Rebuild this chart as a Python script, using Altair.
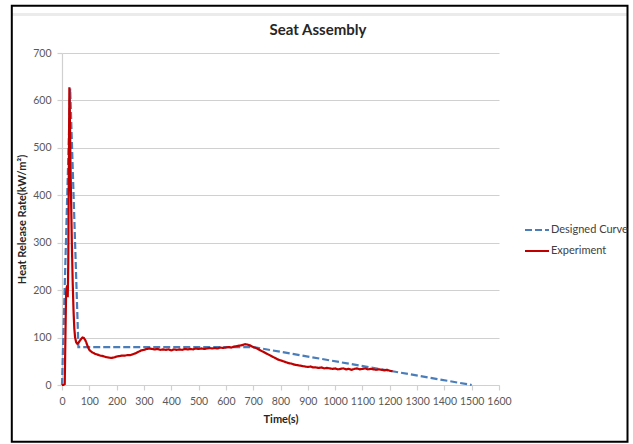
import altair as alt
import pandas as pd

# Designed heat release curve (time in s, HRR in kW/m²)
design_t = [0, 30, 60, 700, 1500]
design_hrr = [0, 625, 80, 80, 0]

# Measured heat release rate from the seat assembly test
exp_t = [0, 5, 10, 13, 15, 17, 19, 21, 23, 25, 27, 29, 31, 33, 36, 39, 42, 45, 48,
         52, 56, 60, 65, 70, 75, 80, 85, 90, 95,
         100, 110, 120, 130, 140, 150, 160, 170, 180, 190,
         200, 210, 220, 230, 240, 250, 260, 270, 280, 290,
         300, 310, 320, 330, 340, 350, 360, 370, 380, 390,
         400, 410, 420, 430, 440, 450, 460, 470, 480, 490,
         500, 510, 520, 530, 540, 550, 560, 570, 580, 590,
         600, 610, 620, 630, 640, 650, 660, 670, 680, 690,
         700, 710, 720, 730, 740, 750, 760, 770, 780, 790,
         800, 810, 820, 830, 840, 850, 860, 870, 880, 890,
         900, 910, 920, 930, 940, 950, 960, 970, 980, 990,
         1000, 1010, 1020, 1030, 1040, 1050, 1060, 1070, 1080, 1090,
         1100, 1110, 1120, 1130, 1140, 1150, 1160, 1170, 1180, 1190,
         1200, 1210]
exp_hrr = [0, 0, 2, 120, 195, 205, 210, 185, 260, 450, 628, 560, 470, 400, 300, 220, 160, 120, 100,
           90, 87, 89, 93, 97, 100, 99, 95, 88, 80,
           74, 69, 66, 64, 62, 61, 59, 58, 57, 58,
           60, 61, 62, 62, 63, 63, 65, 67, 70, 73,
           74, 76, 77, 76, 75, 76, 74, 75, 74, 75,
           73, 75, 74, 75, 74, 76, 75, 76, 75, 77,
           76, 77, 76, 77, 78, 77, 78, 77, 79, 78,
           79, 80, 79, 81, 82, 83, 84, 86, 85, 83,
           80, 78, 75, 72, 69, 66, 63, 60, 57, 54,
           52, 50, 48, 46, 45, 43, 42, 41, 40, 39,
           38, 39, 37, 37, 36, 37, 35, 36, 35, 34,
           35, 33, 34, 35, 33, 34, 32, 34, 35, 33,
           34, 35, 33, 34, 33, 32, 33, 32, 31, 32,
           30, 29]

series_names = ["Designed Curve", "Experiment"]
series_colors = ["#4a7ebb", "#c00000"]
series_dashes = [[7, 3], [1, 0]]

x_ticks = list(range(0, 1700, 100))
y_ticks = list(range(0, 800, 100))

chart_title = "Seat Assembly"

df = pd.concat([
    pd.DataFrame({"t": design_t, "hrr": design_hrr, "series": series_names[0]}),
    pd.DataFrame({"t": exp_t, "hrr": exp_hrr, "series": series_names[1]}),
], ignore_index=True)

FONT = "Lato"
W, H = 437, 332

legend = alt.Legend(
    title=None, orient="none", legendX=462, legendY=164,
    symbolType="stroke", symbolSize=576, symbolStrokeWidth=2,
    labelFont=FONT, labelFontSize=11, labelColor="#404040",
    padding=0, rowPadding=3, labelOffset=1,
)

lines = alt.Chart(df).mark_line(strokeWidth=2.2).encode(
    x=alt.X("t:Q", scale=alt.Scale(domain=[0, 1600], nice=False),
            axis=alt.Axis(values=x_ticks, format="d", title="Time(s)", grid=False,
                          titleX=W / 2, titleY=34, titleBaseline="middle")),
    y=alt.Y("hrr:Q", scale=alt.Scale(domain=[0, 700], nice=False),
            axis=alt.Axis(values=y_ticks, format="d", title="Heat Release Rate(kW/m²)", grid=True,
                          titleX=-40, titleY=H / 2, titleAngle=270,
                          titleAlign="center", titleBaseline="middle")),
    color=alt.Color("series:N", scale=alt.Scale(domain=series_names, range=series_colors),
                    legend=legend),
    strokeDash=alt.StrokeDash("series:N", scale=alt.Scale(domain=series_names, range=series_dashes),
                              legend=legend),
    order=alt.Order("t:Q"),
)

one_row = alt.Data(values=[{"k": 1}])

# chart heading, centred over the whole figure
heading = alt.Chart(alt.Data(values=[{"label": chart_title}])).mark_text(
    font=FONT, fontSize=15, fontWeight="bold", color="#262626",
    align="center", baseline="middle",
).encode(x=alt.value(256), y=alt.value(-23), text="label:N")

# thin grey band under the top edge of the frame
band = alt.Chart(one_row).mark_rect(color="#ebebeb").encode(
    x=alt.value(-50), x2=alt.value(565), y=alt.value(-40), y2=alt.value(-37)
)

# black frame around the whole figure
frame = alt.Chart(one_row).mark_rect(filled=False, stroke="black", strokeWidth=2).encode(
    x=alt.value(-50.2), x2=alt.value(565.5), y=alt.value(-47.3), y2=alt.value(388.8)
)

chart = alt.layer(band, lines, heading, frame).properties(
    width=W, height=H,
    autosize=alt.AutoSizeParams(type="none"),
    padding={"left": 62, "top": 53, "right": 134, "bottom": 59},
    background="white",
).configure_view(stroke=None).configure_axis(
    labelFont=FONT, labelFontSize=10.5, labelColor="#595959", labelOverlap=False,
    labelFlush=False,
    titleFont=FONT, titleFontSize=11, titleFontWeight="bold", titleColor="#262626",
    domainColor="#d0d0d0", domainWidth=1.2, tickColor="#d0d0d0", tickSize=5, tickWidth=1.2,
    gridColor="#d0d0d0", gridWidth=1.2, labelPadding=6,
)

chart.save("out.html", embed_options={"renderer": "svg", "actions": False})
